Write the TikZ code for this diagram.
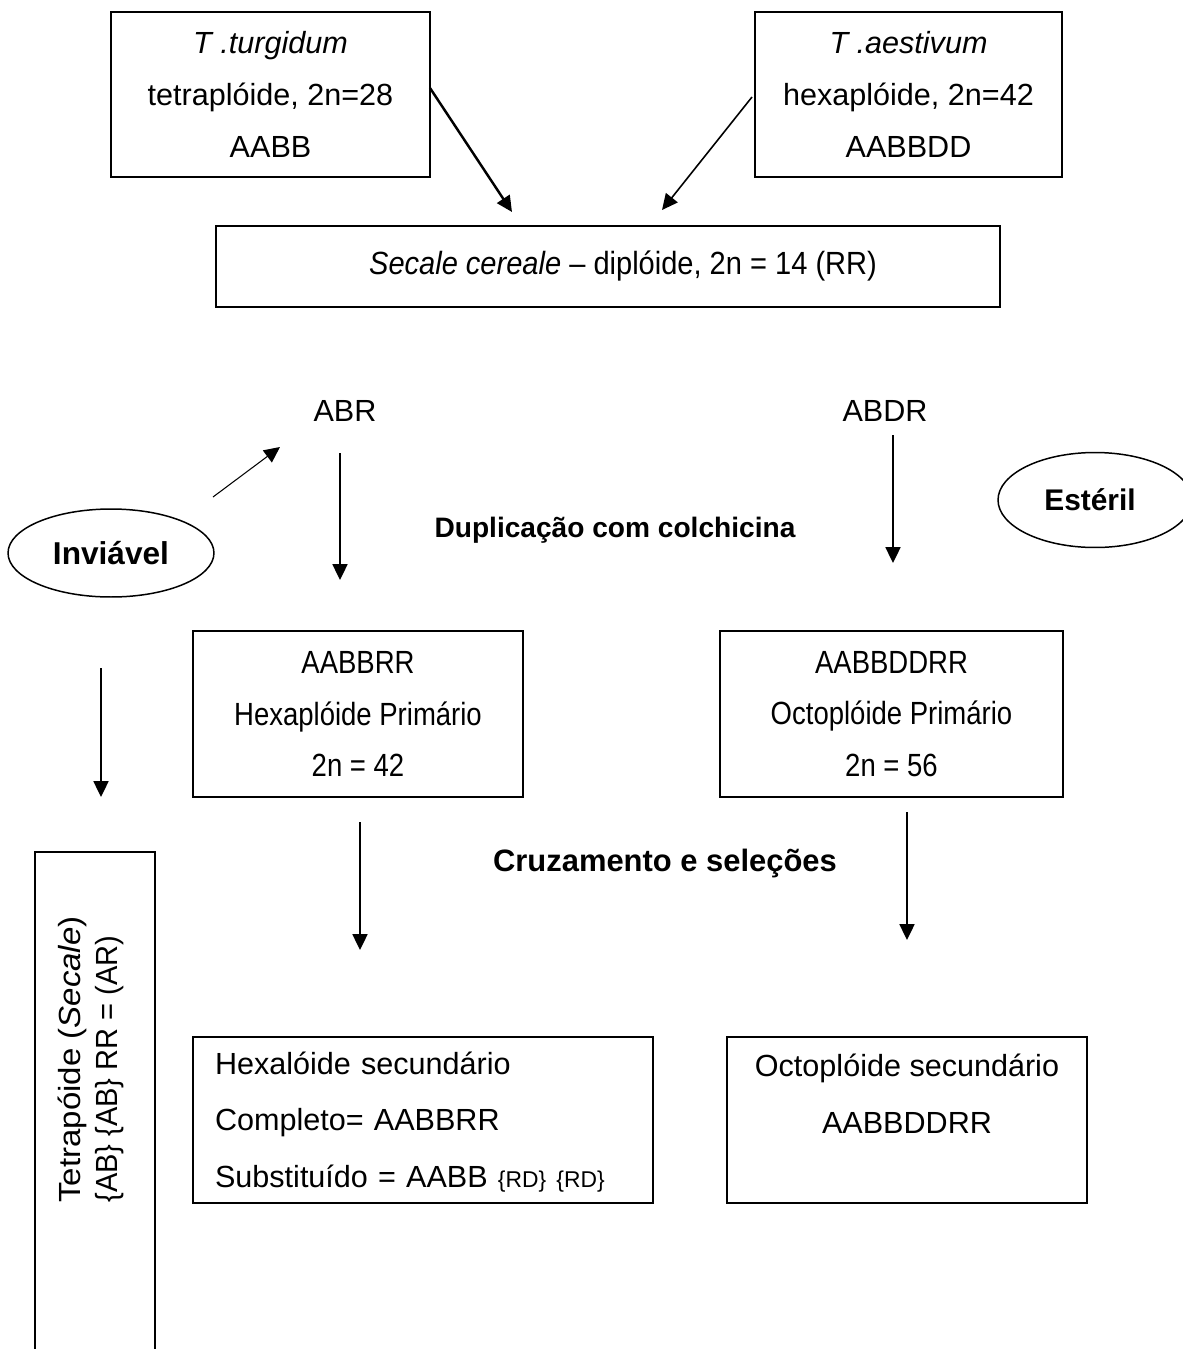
\documentclass[tikz,border=0pt]{standalone}
\usepackage{fontspec}
\usepackage{graphicx}
\setmainfont{Liberation Sans}
\usetikzlibrary{shapes.geometric,arrows.meta}
\newcommand\nrw[1]{\scalebox{0.9}[1.05]{#1}}
\begin{document}
\begin{tikzpicture}[x=0.02cm,y=-0.02cm,
  box/.style={draw,line width=0.85pt,rectangle,inner sep=0pt,align=center,
    font=\fontsize{17.4}{29.5}\selectfont},
  lbl/.style={inner sep=0pt,font=\fontsize{17.4}{20}\selectfont},
  blbl/.style={inner sep=0pt,font=\fontsize{17}{20}\selectfont\bfseries},
  oval/.style={draw,line width=0.85pt,ellipse,inner sep=0pt,font=\fontsize{17}{20}\selectfont\bfseries},
  arr/.style={line width=1.1pt,-{Triangle[length=9pt,width=8.5pt]}},
  thickarr/.style={line width=1.4pt,-{Triangle[length=9pt,width=8.5pt]}},
  thinarr/.style={line width=0.6pt,-{Triangle[length=9pt,width=8.5pt]}}
]
\useasboundingbox (0,0) rectangle (1183,1349);

% top boxes
\node[box,minimum width=6.38cm,minimum height=3.3cm] (turg) at (270.5,94.5)
  {\textit{T .turgidum}\\tetraplóide, 2n=28\\AABB};
\node[box,minimum width=6.14cm,minimum height=3.3cm] (aest) at (908.5,94.5)
  {\textit{T .aestivum}\\hexaplóide, 2n=42\\AABBDD};
\node[box,minimum width=15.68cm,minimum height=1.62cm] (secale) at (608,266.5)
  {\hspace*{0.6cm}\scalebox{0.95}[1.05]{\textit{Secale cereale} – diplóide, 2n = 14 (RR)}};

% labels
\node[lbl] (abr) at (345,411) {ABR};
\node[lbl] (abdr) at (885,411) {ABDR};
\node[blbl,font=\fontsize{16}{20}\selectfont\bfseries] (dup) at (615,530) {Duplicação com colchicina};
\node[blbl,font=\fontsize{17.6}{20}\selectfont\bfseries] (cruz) at (665,863) {Cruzamento e seleções};

% ovals
\node[oval,minimum width=4.12cm,minimum height=1.76cm,font=\fontsize{18}{20}\selectfont\bfseries] (inv) at (111,553) {Inviável};
\node[oval,minimum width=3.88cm,minimum height=1.9cm] (est) at (1095,500) {\hspace*{-0.2cm}Estéril};

% middle boxes
\node[box,minimum width=6.6cm,minimum height=3.32cm] (hexp) at (358,714)
  {\nrw{AABBRR}\\\nrw{Hexaplóide Primário}\\\nrw{2n = 42}};
\node[box,minimum width=6.86cm,minimum height=3.32cm] (octp) at (891.5,714)
  {\nrw{AABBDDRR}\\\nrw{Octoplóide Primário}\\\nrw{2n = 56}};

% bottom boxes
\node[box,align=left,text width=8.32cm,inner xsep=0.44cm,minimum height=3.32cm,
  font=\fontsize{17.4}{32}\selectfont] (hexs) at (423,1120)
  {\rule{0pt}{15pt}Hexalóide secundário\\Completo= AABBRR\\Substituído = AABB {\fontsize{13}{14}\selectfont\{RD\} \{RD\}}};
\node[box,minimum width=7.2cm,minimum height=3.32cm,font=\fontsize{17.4}{32}\selectfont] (octs) at (907,1120)
  {\rule{0pt}{15pt}Octoplóide secundário\\AABBDDRR\\\phantom{A}};

% vertical box
\node[draw,line width=0.85pt,rectangle,minimum width=2.4cm,minimum height=10.56cm,inner sep=0pt] (tetra) at (95,1116) {};
\node[rotate=90,anchor=west,align=left,inner sep=0pt,font=\fontsize{17.4}{21}\selectfont] (tetratxt) at (91,1203)
  {\scalebox{1.08}[1]{Tetrapóide (\textit{Secale})}\\\scalebox{0.95}[1]{\{AB\} \{AB\} RR = (AR)}};

% connector end points
\coordinate (a1s) at (430,88);   \coordinate (a1e) at (512,212);
\coordinate (a2s) at (752,97);   \coordinate (a2e) at (662,210);
\coordinate (a3s) at (213,497);  \coordinate (a3e) at (280,447);
\coordinate (a4s) at (340,453);  \coordinate (a4e) at (340,580);
\coordinate (a5s) at (893,435);  \coordinate (a5e) at (893,563);
\coordinate (a6s) at (101,668);  \coordinate (a6e) at (101,797);
\coordinate (a7s) at (360,822);  \coordinate (a7e) at (360,950);
\coordinate (a8s) at (907,812);  \coordinate (a8e) at (907,940);

\draw[thickarr] (a1s) -- (a1e);
\draw[line width=0.9pt,-{Triangle[length=9pt,width=8.5pt]}] (a2s) -- (a2e);
\draw[thinarr] (a3s) -- (a3e);
\draw[arr] (a4s) -- (a4e);
\draw[arr] (a5s) -- (a5e);
\draw[arr] (a6s) -- (a6e);
\draw[arr] (a7s) -- (a7e);
\draw[arr] (a8s) -- (a8e);
\end{tikzpicture}
\end{document}
